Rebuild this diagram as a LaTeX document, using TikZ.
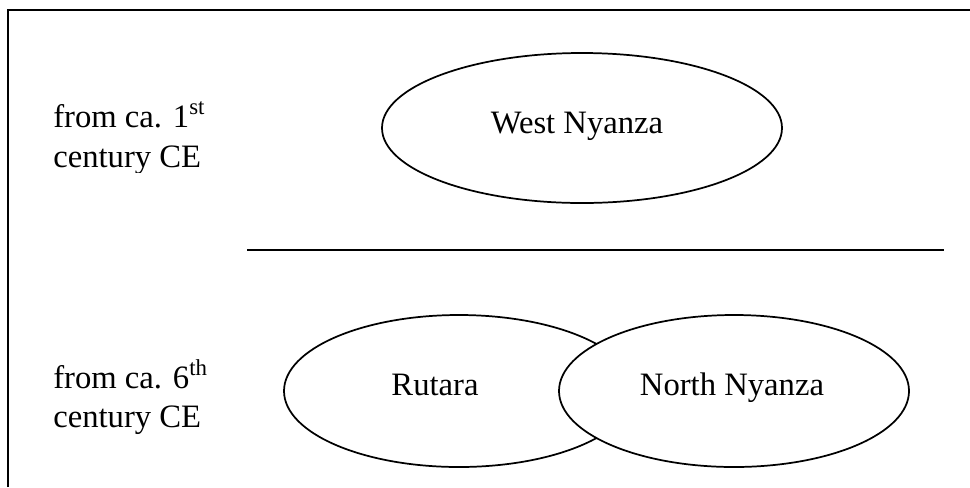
\documentclass[tikz,border=0pt]{standalone}
\usepackage{fontspec}
\setmainfont{Liberation Serif}
\usetikzlibrary{shapes.geometric}

\tikzset{
  rule/.style={line width=1.3pt, black},
  era/.style 2 args={ellipse, draw, line width=1.3pt, fill=white, inner sep=0pt,
              minimum width=0.75pt*#1, minimum height=0.75pt*#2},
  lbl/.style={inner sep=0pt, font=\fontsize{24.5}{30}\selectfont},
}

\begin{document}
\begin{tikzpicture}[x=0.75pt,y=-0.75pt]
  \useasboundingbox (0,0) rectangle (970,487);

  % frame (left and top edges)
  \coordinate (fb) at (8,487);
  \coordinate (ftl) at (8,10);
  \coordinate (ftr) at (970,10);
  \draw[rule] (fb) -- (ftl) -- (ftr);

  % period divider
  \coordinate (dl) at (247,250);
  \coordinate (dr) at (944,250);
  \draw[rule] (dl) -- (dr);

  % period labels (the first text box cuts off the descenders of its last line)
  \node[lbl, anchor=base west] (p1a) at (53,127) {from ca. 1\textsuperscript{st}};
  \begin{scope}
    \clip (0,140) rectangle (300,172);
    \node[lbl, anchor=base west] (p1b) at (53,167) {century CE};
  \end{scope}
  \node[lbl, anchor=base west] (p2a) at (53,388) {from ca. 6\textsuperscript{th}};
  \node[lbl, anchor=base west] (p2b) at (53,427) {century CE};

  % groups
  \node[era={400}{150}] (wn) at (582,128) {};
  \node[lbl, anchor=base] (wnt) at (577,133) {West Nyanza};

  \node[era={350}{152}] (ru) at (459,391) {};
  \node[era={350}{152}] (nn) at (734,391) {};
  \node[lbl, anchor=base] (rut) at (435,395) {Rutara};
  \node[lbl, anchor=base] (nnt) at (732,395) {North Nyanza};
\end{tikzpicture}
\end{document}
